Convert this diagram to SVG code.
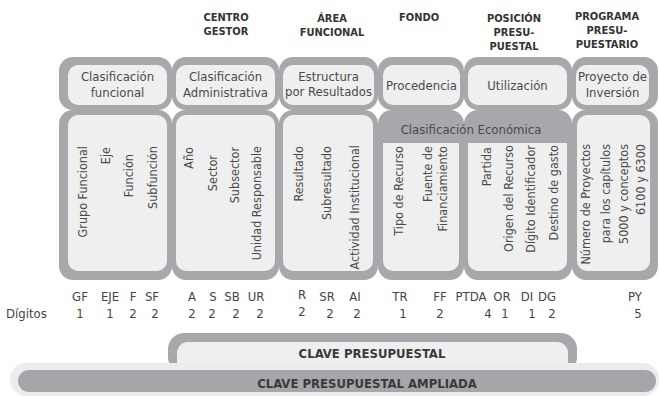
<svg xmlns="http://www.w3.org/2000/svg" width="659" height="396" viewBox="0 0 659 396">
<style>
.frame{fill:#a7a8ab}
.cell{fill:#efefef}
.t{font-family:"DejaVu Sans Condensed","DejaVu Sans",sans-serif;font-stretch:condensed;font-size:12.5px;fill:#4a4a4a}
.ht{font-size:13px}
.c{text-anchor:middle}
.v{text-anchor:end}
.h{font-family:"DejaVu Sans Condensed","DejaVu Sans",sans-serif;font-stretch:condensed;font-weight:bold;font-size:11px;fill:#333;text-anchor:middle}
.code{font-family:"DejaVu Sans Condensed","DejaVu Sans",sans-serif;font-stretch:condensed;font-size:13px;fill:#444;text-anchor:middle}
.key{font-family:"DejaVu Sans Condensed","DejaVu Sans",sans-serif;font-stretch:condensed;font-weight:bold;font-size:13px;fill:#3a3a3a;text-anchor:middle}
</style>
<rect width="659" height="396" fill="#ffffff"/>

<g id="headers">
<text class="h" x="226" y="21">CENTRO</text>
<text class="h" x="226" y="35">GESTOR</text>
<text class="h" x="332" y="22">ÁREA</text>
<text class="h" x="332" y="36">FUNCIONAL</text>
<text class="h" x="419" y="21">FONDO</text>
<text class="h" x="514" y="22">POSICIÓN</text>
<text class="h" x="514" y="36">PRESU-</text>
<text class="h" x="514" y="50">PUESTAL</text>
<text class="h" x="607" y="20">PROGRAMA</text>
<text class="h" x="607" y="34">PRESU-</text>
<text class="h" x="607" y="48">PUESTARIO</text>
</g>

<g id="frame">
<rect class="frame" x="59" y="57" width="113" height="53" rx="14"/>
<rect class="frame" x="172" y="57" width="107" height="53" rx="14"/>
<rect class="frame" x="279" y="57" width="99" height="53" rx="14"/>
<rect class="frame" x="378" y="57" width="86" height="53" rx="14"/>
<rect class="frame" x="464" y="57" width="108" height="53" rx="14"/>
<rect class="frame" x="572" y="57" width="86" height="53" rx="14"/>
<rect class="frame" x="59" y="110" width="113" height="170" rx="14"/>
<rect class="frame" x="172" y="110" width="107" height="170" rx="14"/>
<rect class="frame" x="279" y="110" width="99" height="170" rx="14"/>
<rect class="frame" x="378" y="110" width="86" height="170" rx="14"/>
<rect class="frame" x="464" y="110" width="108" height="170" rx="14"/>
<rect class="frame" x="572" y="110" width="86" height="170" rx="14"/>
</g>

<g id="funcional">
<rect class="cell" x="68" y="65" width="99" height="40" rx="10"/>
<text class="t ht c" x="117.5" y="81">Clasificación</text>
<text class="t ht c" x="117.5" y="97">funcional</text>
<rect class="cell" x="68" y="115" width="99" height="156" rx="10"/>
<text class="t v" transform="translate(87,146) rotate(-90)">Grupo Funcional</text>
<text class="t v" transform="translate(110,147) rotate(-90)">Eje</text>
<text class="t v" transform="translate(133,154) rotate(-90)">Función</text>
<text class="t v" transform="translate(157,146) rotate(-90)">Subfunción</text>
</g>

<g id="administrativa">
<rect class="cell" x="176" y="65" width="99" height="40" rx="10"/>
<text class="t ht c" x="225.5" y="81">Clasificación</text>
<text class="t ht c" x="225.5" y="97">Administrativa</text>
<rect class="cell" x="176" y="115" width="99" height="156" rx="10"/>
<text class="t v" transform="translate(193,147) rotate(-90)">Año</text>
<text class="t v" transform="translate(217,155) rotate(-90)">Sector</text>
<text class="t v" transform="translate(239,147) rotate(-90)">Subsector</text>
<text class="t v" transform="translate(261,146) rotate(-90)">Unidad Responsable</text>
</g>

<g id="resultados">
<rect class="cell" x="283" y="65" width="91" height="40" rx="10"/>
<text class="t ht c" x="328.5" y="81">Estructura</text>
<text class="t ht c" x="328.5" y="96">por Resultados</text>
<rect class="cell" x="283" y="115" width="90" height="156" rx="10"/>
<text class="t v" transform="translate(303,146) rotate(-90)">Resultado</text>
<text class="t v" transform="translate(331,146) rotate(-90)">Subresultado</text>
<text class="t v" transform="translate(359,145) rotate(-90)">Actividad Institucional</text>
</g>

<g id="economica">
<text class="t ht c" x="471" y="134">Clasificación Económica</text>
</g>

<g id="procedencia">
<rect class="cell" x="383" y="65" width="77" height="40" rx="10"/>
<text class="t ht c" x="421.5" y="90">Procedencia</text>
<path class="cell" d="M383,143 H459 V261 A10,10 0 0 1 449,271 H393 A10,10 0 0 1 383,261 Z"/>
<text class="t v" transform="translate(403,146) rotate(-90)">Tipo de Recurso</text>
<text class="t v" transform="translate(432,146) rotate(-90)">Fuente de</text>
<text class="t v" transform="translate(447,146) rotate(-90)">Financiamiento</text>
</g>

<g id="utilizacion">
<rect class="cell" x="468" y="65" width="99" height="40" rx="10"/>
<text class="t ht c" x="517.5" y="90">Utilización</text>
<path class="cell" d="M468,143 H567 V261 A10,10 0 0 1 557,271 H478 A10,10 0 0 1 468,261 Z"/>
<text class="t v" transform="translate(491,147) rotate(-90)">Partida</text>
<text class="t v" transform="translate(513,145) rotate(-90)">Origen del Recurso</text>
<text class="t v" transform="translate(535,145) rotate(-90)">Dígito Identificador</text>
<text class="t v" transform="translate(558,145) rotate(-90)">Destino de gasto</text>
</g>

<g id="inversion">
<rect class="cell" x="576" y="65" width="73" height="40" rx="10"/>
<text class="t ht c" x="612.5" y="81">Proyecto de</text>
<text class="t ht c" x="612.5" y="97">Inversión</text>
<rect class="cell" x="577" y="115" width="73" height="156" rx="10"/>
<text class="t v" transform="translate(590,144) rotate(-90)">Número de Proyectos</text>
<text class="t v" transform="translate(610,144) rotate(-90)">para los capítulos</text>
<text class="t v" transform="translate(628,144) rotate(-90)">5000 y conceptos</text>
<text class="t v" transform="translate(645,144) rotate(-90)">6100 y 6300</text>
</g>

<g id="codes">
<text class="code" x="80" y="301">GF</text>
<text class="code" x="110" y="301">EJE</text>
<text class="code" x="133" y="301">F</text>
<text class="code" x="152" y="301">SF</text>
<text class="code" x="192" y="301">A</text>
<text class="code" x="213" y="301">S</text>
<text class="code" x="232" y="301">SB</text>
<text class="code" x="256" y="301">UR</text>
<text class="code" x="302" y="299">R</text>
<text class="code" x="327" y="301">SR</text>
<text class="code" x="355" y="301">AI</text>
<text class="code" x="400" y="301">TR</text>
<text class="code" x="440" y="301">FF</text>
<text class="code" x="471" y="301">PTDA</text>
<text class="code" x="502" y="301">OR</text>
<text class="code" x="527" y="301">DI</text>
<text class="code" x="547" y="301">DG</text>
<text class="code" x="635" y="301">PY</text>
</g>

<g id="digitos">
<text class="code" x="6" y="318" style="text-anchor:start">Dígitos</text>
<text class="code" x="80" y="318">1</text>
<text class="code" x="110" y="318">1</text>
<text class="code" x="133" y="318">2</text>
<text class="code" x="155" y="318">2</text>
<text class="code" x="192" y="318">2</text>
<text class="code" x="212" y="318">2</text>
<text class="code" x="236" y="318">2</text>
<text class="code" x="260" y="318">2</text>
<text class="code" x="302" y="316">2</text>
<text class="code" x="330" y="318">2</text>
<text class="code" x="357" y="318">2</text>
<text class="code" x="403" y="318">1</text>
<text class="code" x="440" y="318">2</text>
<text class="code" x="488" y="318">4</text>
<text class="code" x="505" y="318">1</text>
<text class="code" x="532" y="318">1</text>
<text class="code" x="552" y="318">2</text>
<text class="code" x="638" y="318">5</text>
</g>

<g id="clave">
<rect class="frame" x="168" y="333" width="409" height="40" rx="16"/>
<rect class="cell" x="177" y="342" width="391" height="30" rx="11"/>
<text class="key" x="372" y="358">CLAVE PRESUPUESTAL</text>
</g>

<g id="clave-ampliada">
<rect x="10" y="363" width="649" height="33" rx="16" fill="#ececec"/>
<rect x="18" y="370" width="638" height="22" rx="11" fill="#a5a6a9"/>
<text class="key" x="367" y="388">CLAVE PRESUPUESTAL AMPLIADA</text>
</g>
</svg>
